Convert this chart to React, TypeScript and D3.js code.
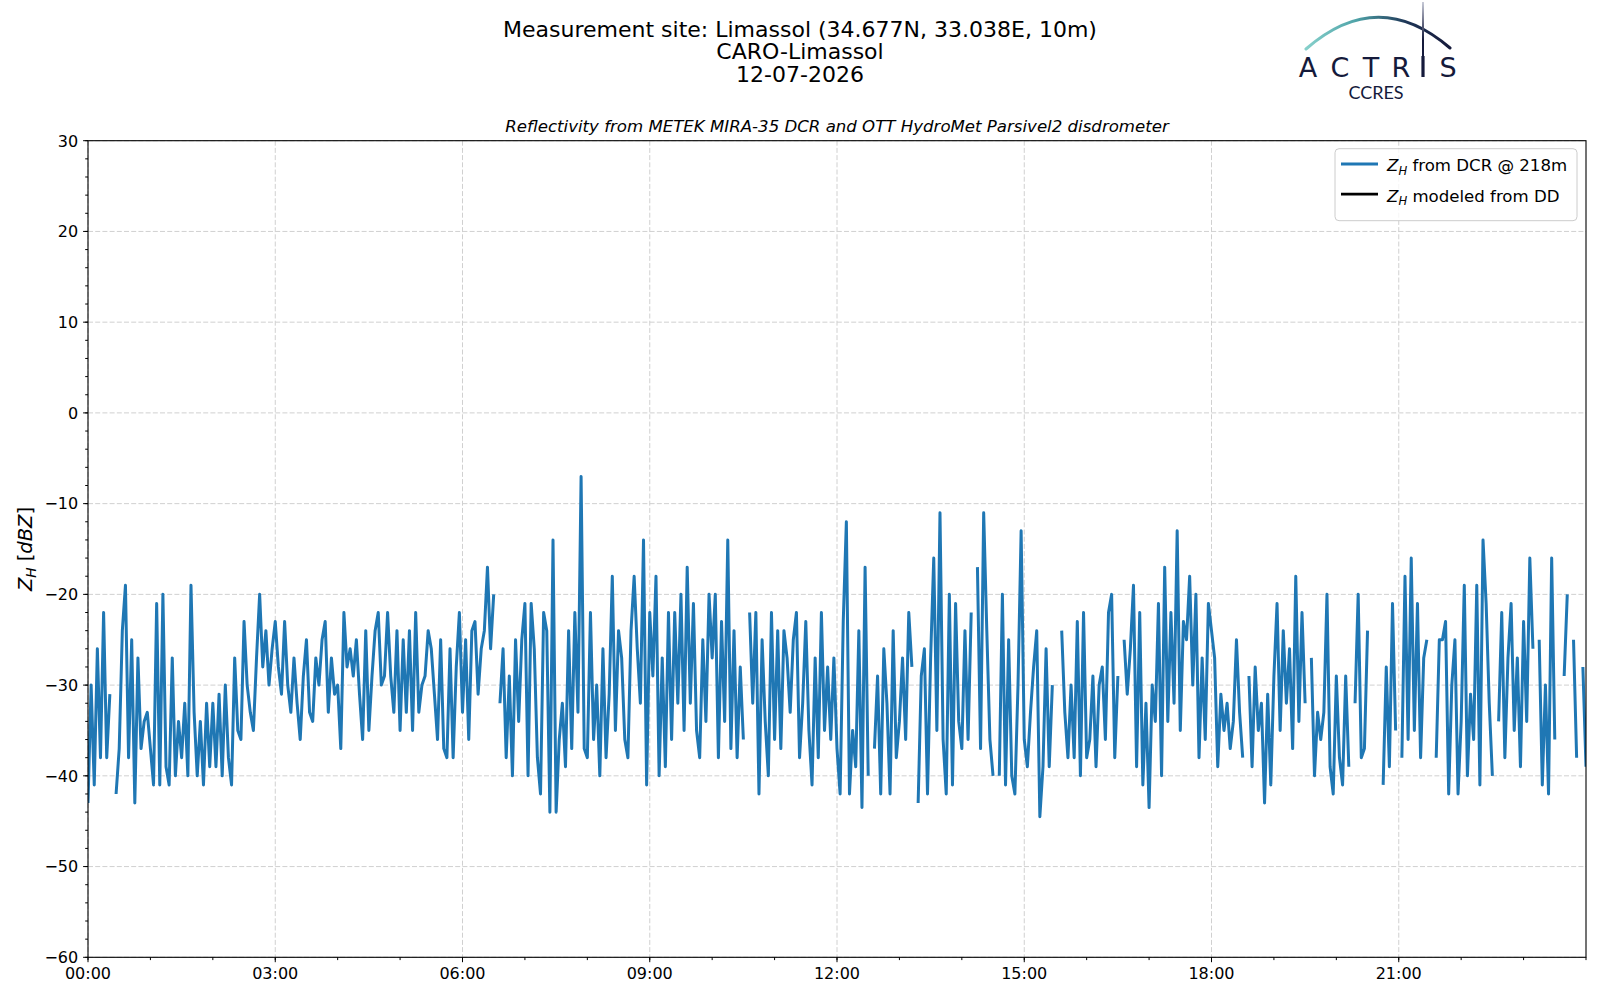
import React from "react";
import * as d3 from "d3";

const width = 1600;
const height = 1000;
const margin = { left: 88, right: 14, top: 140.7, bottom: 42.7 };
const font = "DejaVu Sans, Verdana, sans-serif";

const titleLines = [
  "Measurement site: Limassol (34.677N, 33.038E, 10m)",
  "CARO-Limassol",
  "12-07-2026",
];
const subtitle =
  "Reflectivity from METEK MIRA-35 DCR and OTT HydroMet Parsivel2 disdrometer";
const xTickLabels = ["00:00", "03:00", "06:00", "09:00", "12:00", "15:00", "18:00", "21:00"];
const yTicks = [-60, -50, -40, -30, -20, -10, 0, 10, 20, 30];
const legendLabels = [" from DCR @ 218m", " modeled from DD"];
const seriesColors = ["#1f77b4", "#000000"];

// DCR reflectivity at 218 m, one value every 3 minutes (null = no echo)
const stepMinutes = 3;
const h00 = [-43, -30, -41, -26, -38, -22, -38, -31, null, -42, -37, -24, -19, -38, -25, -43, -27, -37, -34, -33];
const h01 = [-37, -41, -21, -41, -20, -39, -41, -27, -40, -34, -38, -32, -40, -19, -33, -40, -34, -41, -32, -39];
const h02 = [-32, -39, -31, -40, -30, -38, -41, -27, -35, -36, -23, -30, -33, -35, -27, -20, -28, -24, -30, -26];
const h03 = [-23, -28, -31, -23, -30, -33, -27, -32, -36, -29, -25, -33, -34, -27, -30, -25, -23, -33, -27, -31];
const h04 = [-30, -37, -22, -28, -26, -29, -25, -31, -36, -24, -35, -29, -24, -22, -30, -29, -22, -29, -33, -24];
const h05 = [-35, -25, -33, -24, -35, -22, -33, -30, -29, -24, -26, -31, -36, -25, -37, -38, -26, -38, -28, -22];
const h06 = [-33, -25, -36, -24, -23, -31, -26, -24, -17, -26, -20, null, -32, -26, -38, -29, -40, -25, -34, -25];
const h07 = [-21, -40, -21, -26, -38, -42, -22, -24, -44, -14, -44, -36, -32, -39, -24, -37, -22, -33, -7, -37];
const h08 = [-38, -22, -36, -30, -40, -26, -38, -31, -18, -35, -24, -27, -36, -38, -24, -18, -26, -32, -14, -41];
const h09 = [-22, -29, -18, -40, -27, -39, -22, -36, -22, -32, -20, -35, -17, -32, -21, -35, -38, -25, -34, -20];
const h10 = [-27, -20, -38, -23, -34, -14, -37, -24, -38, -28, -36, null, -22, -32, -22, -42, -25, -34, -40, -22];
const h11 = [-36, -24, -37, -24, -27, -33, -25, -22, -38, -32, -23, -35, -41, -27, -38, -22, -35, -28, -36, -27];
const h12 = [-37, -42, -23, -12, -42, -35, -39, -24, -43.5, -17, -40, null, -37, -29, -42, -26, -32, -42, -24, -38];
const h13 = [-34, -27, -36, -22, -28, null, -43, -29, -26, -42, -27, -16, -35, -11, -36, -42, -20, -41, -21, -34];
const h14 = [-37, -24, -36, -22, null, -17, -37, -11, -24, -36, -40, null, -40, -20, -41, -25, -40, -42, -30, -13];
const h15 = [-36, -39, -33, -28, -24, -44.5, -39, -26, -39, -30, null, null, -24, -33, -38, -30, -38, -23, -40, -22];
const h16 = [-38, -36, -29, -39, -30, -28, -36, -22, -20, -38, -29, null, -25, -31, -26, -19, -39, -22, -41, -32];
const h17 = [-43.5, -30, -34, -21, -40, -17, -34, -22, -32, -13, -35, -23, -25, -18, -30, -20, -38, -27, -36, -21];
const h18 = [-24, -27, -39, -31, -35, -32, -37, -34, -25, -33, -38, null, -29, -39, -28, -35, -32, -43, -31, -41];
const h19 = [-29, -21, -35, -24, -32, -26, -37, -18, -34, -22, -32, null, -27, -40, -33, -36, -33, -20, -39, -42];
const h20 = [-29, -38, -41, -29, -39, null, -32, -20, -38, -37, -24, null, null, null, null, -41, -28, -39, -21, -35];
const h21 = [null, -38, -18, -36, -16, -35, -21, -38, -27, -25, null, null, -38, -25, -25, -23, -42, -30, -25, -42];
const h22 = [-34, -19, -40, -31, -36, -19, -41, -14, -21, -32, -40, null, -34, -22, -38, -27, -21, -35, -27, -39];
const h23 = [-23, -34, -16, -26, null, -25, -41, -30, -42, -16, -36, null, null, -29, -20, null, -25, -38, null, -28];
const endValue = [-39];

const dcrZh: (number | null)[] = [
  ...h00, ...h01, ...h02, ...h03, ...h04, ...h05, ...h06, ...h07,
  ...h08, ...h09, ...h10, ...h11, ...h12, ...h13, ...h14, ...h15,
  ...h16, ...h17, ...h18, ...h19, ...h20, ...h21, ...h22, ...h23,
  ...endValue,
];
// the disdrometer series is empty for this day
const modeledZh: (number | null)[] = [];

type Pt = { t: number; v: number | null };
const toPoints = (vals: (number | null)[]): Pt[] =>
  vals.map((v, i) => ({ t: i * stepMinutes, v }));

const x = d3
  .scaleLinear()
  .domain([0, 1440])
  .range([margin.left, width - margin.right]);
const y = d3
  .scaleLinear()
  .domain([-60, 30])
  .range([height - margin.bottom, margin.top]);

const line = d3
  .line<Pt>()
  .defined((d) => d.v !== null)
  .x((d) => x(d.t))
  .y((d) => y(d.v as number));

const minus = (n: number) => String(n).replace("-", "\u2212");

function ZH({ size }: { size: number }) {
  return (
    <>
      <tspan fontStyle="italic">Z</tspan>
      <tspan fontStyle="italic" fontSize={size * 0.7} dy={size * 0.22}>
        H
      </tspan>
    </>
  );
}

function Logo() {
  const navy = "#151a3b";
  const letters = [
    { c: "A", x: 1308 },
    { c: "C", x: 1340 },
    { c: "T", x: 1371 },
    { c: "R", x: 1401 },
    { c: "S", x: 1448 },
  ];
  return (
    <g>
      <defs>
        <linearGradient id="arcGrad" gradientUnits="userSpaceOnUse" x1={1306} y1={0} x2={1450} y2={0}>
          <stop offset="0" stopColor="#86d0cb" />
          <stop offset="0.35" stopColor="#4fa3a8" />
          <stop offset="0.7" stopColor="#1e3556" />
          <stop offset="1" stopColor={navy} />
        </linearGradient>
        <linearGradient id="barGrad" gradientUnits="userSpaceOnUse" x1={0} y1={2} x2={0} y2={40}>
          <stop offset="0" stopColor="#c8cbd8" />
          <stop offset="1" stopColor={navy} />
        </linearGradient>
      </defs>
      <path d="M1306,49 Q1378,-14 1450,48" fill="none" stroke="url(#arcGrad)" strokeWidth={3} strokeLinecap="round" />
      <line x1={1423} x2={1423} y1={2} y2={58} stroke="url(#barGrad)" strokeWidth={2} />
      <line x1={1423} x2={1423} y1={56} y2={77} stroke={navy} strokeWidth={3.2} />
      {letters.map((l) => (
        <text key={l.c} x={l.x} y={77} textAnchor="middle" fontFamily="DejaVu Sans, sans-serif" fontSize={27} fill={navy}>
          {l.c}
        </text>
      ))}
      <text x={1376} y={98.5} textAnchor="middle" fontFamily="Lato, sans-serif" fontSize={18} fill={navy}>
        CCRES
      </text>
    </g>
  );
}

export default function App() {
  const xMajor = d3.range(0, 1440, 180);
  const xMinor = d3.range(0, 1441, 60);
  const yMinor = d3.range(-60, 31, 2);
  const left = margin.left;
  const right = width - margin.right;
  const top = margin.top;
  const bottom = height - margin.bottom;
  const series = [dcrZh, modeledZh];

  return (
    <svg
      width={width}
      height={height}
      style={{ position: "absolute", left: 0, top: 0, background: "#fff" }}
      fontFamily={font}
    >
      <rect width={width} height={height} fill="#fff" />
      <defs>
        <clipPath id="plotClip">
          <rect x={left} y={top} width={right - left} height={bottom - top} />
        </clipPath>
      </defs>

      {titleLines.map((t, i) => (
        <text key={t} x={800} y={36.7 + i * 22.7} textAnchor="middle" fontSize={22}>
          {t}
        </text>
      ))}
      <Logo />
      <text x={(left + right) / 2} y={131.5} textAnchor="middle" fontSize={16.6} fontStyle="italic">
        {subtitle}
      </text>

      {/* grid */}
      <g stroke="#d0d0d0" strokeWidth={1} strokeDasharray="5 2.2">
        {xMajor.map((m) => (
          <line key={"gx" + m} x1={x(m)} x2={x(m)} y1={top} y2={bottom} />
        ))}
        {yTicks.map((v) => (
          <line key={"gy" + v} x1={left} x2={right} y1={y(v)} y2={y(v)} />
        ))}
      </g>

      {/* data */}
      <g clipPath="url(#plotClip)" fill="none">
        {series.map((s, i) => (
          <path
            key={i}
            d={line(toPoints(s)) || ""}
            stroke={seriesColors[i]}
            strokeWidth={3}
            strokeLinejoin="round"
          />
        ))}
      </g>

      {/* spines */}
      <rect x={left} y={top} width={right - left} height={bottom - top} fill="none" stroke="#000" strokeWidth={1.1} />

      {/* ticks */}
      <g stroke="#000" strokeWidth={1}>
        {xMinor.map((m) => (
          <line key={"mx" + m} x1={x(m)} x2={x(m)} y1={bottom} y2={bottom + 2.8} />
        ))}
        {xMajor.map((m) => (
          <line key={"tx" + m} x1={x(m)} x2={x(m)} y1={bottom} y2={bottom + 4.9} />
        ))}
        {yMinor.map((v) => (
          <line key={"my" + v} x1={left - 2.8} x2={left} y1={y(v)} y2={y(v)} />
        ))}
        {yTicks.map((v) => (
          <line key={"ty" + v} x1={left - 4.9} x2={left} y1={y(v)} y2={y(v)} />
        ))}
      </g>
      {xMajor.map((m, i) => (
        <text key={"lx" + m} x={x(m)} y={bottom + 22} textAnchor="middle" fontSize={16}>
          {xTickLabels[i]}
        </text>
      ))}
      {yTicks.map((v) => (
        <text key={"ly" + v} x={left - 9.8} y={y(v) + 5.8} textAnchor="end" fontSize={16}>
          {minus(v)}
        </text>
      ))}

      <text transform={`translate(32, ${(top + bottom) / 2}) rotate(-90)`} textAnchor="middle" fontSize={19.5}>
        <ZH size={19.5} />
        <tspan dy={-19.5 * 0.22}> [</tspan>
        <tspan fontStyle="italic">dBZ</tspan>
        <tspan>]</tspan>
      </text>

      {/* legend */}
      <g>
        <rect x={1335} y={148.7} width={242} height={72} rx={4} fill="#fff" fillOpacity={0.8} stroke="#cccccc" />
        {legendLabels.map((lab, i) => {
          const ly = 164 + i * 30.2;
          return (
            <g key={lab}>
              <line x1={1341} x2={1378} y1={ly} y2={ly} stroke={seriesColors[i]} strokeWidth={2.8} />
              <text x={1387} y={ly + 7.3} fontSize={16.6}>
                <ZH size={16.6} />
                <tspan dy={-16.6 * 0.22}>{lab}</tspan>
              </text>
            </g>
          );
        })}
      </g>
    </svg>
  );
}
